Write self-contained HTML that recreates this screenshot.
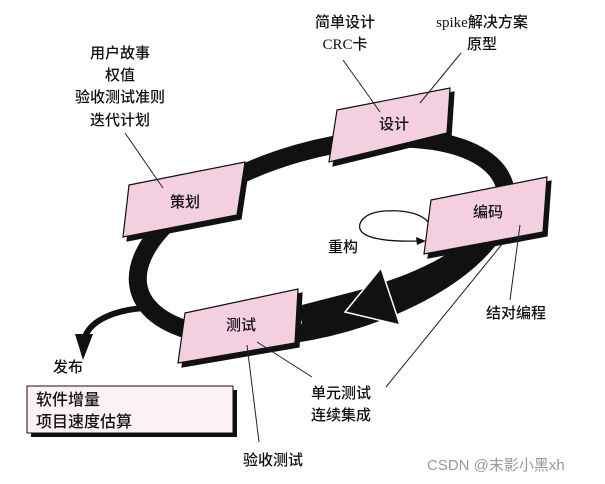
<!DOCTYPE html>
<html><head><meta charset="utf-8"><style>
html,body{margin:0;padding:0;background:#fff;}
svg{display:block;}
text{font-family:"Liberation Serif","Noto Sans CJK SC",sans-serif;font-size:15px;fill:#111;font-weight:500;}
</style></head><body>
<svg width="605" height="484" viewBox="0 0 605 484" xmlns="http://www.w3.org/2000/svg">
<!-- ring -->
<ellipse cx="322" cy="238" rx="190" ry="88" transform="rotate(-16 322 238)" fill="none" stroke="#111" stroke-width="18"/>
<!-- thickened lower-right band -->
<path d="M510,200 C508,250 460,280 410,298 L305,337 L298,306 L360,290 C420,272 478,248 492,200 Z" fill="#111"/>
<!-- arrowhead -->
<polygon points="345,312 381,268 400,325" fill="#111" stroke="#fff" stroke-width="1.5"/>
<!-- release arrow -->
<path d="M145,308 C112,310 88,322 84,340" fill="none" stroke="#111" stroke-width="6"/>
<polygon points="75,334 93,334 83,360" fill="#111"/>
<!-- refactor loop -->
<path d="M428,222 C420,212 400,210 385,211 C365,212 358,222 360,229 C363,238 385,242 420,241" fill="none" stroke="#111" stroke-width="1.3"/>
<polygon points="426,241 416,237 417,245" fill="#111"/>
<!-- boxes: shadow then pink -->
<g stroke="#111" stroke-width="1.2">
<polygon points="133,189 249,166 241,219 127,241" fill="#111"/>
<polygon points="129,185 245,162 237,215 123,237" fill="#f3cfe0"/>
<polygon points="341,114 454,92 451,137 333,166" fill="#111"/>
<polygon points="337,110 450,88 447,133 329,162" fill="#f3cfe0"/>
<polygon points="435,204 551,181 547,236 428,258" fill="#111"/>
<polygon points="431,200 547,177 543,232 424,254" fill="#f3cfe0"/>
<polygon points="189,317 302,293 299,347 182,367" fill="#111"/>
<polygon points="185,313 298,289 295,343 178,363" fill="#f3cfe0"/>
</g>
<!-- leader lines -->
<g stroke="#222" stroke-width="1">
<line x1="125" y1="133" x2="163" y2="188"/>
<line x1="343" y1="60" x2="380" y2="112"/>
<line x1="461" y1="53" x2="420" y2="103"/>
<line x1="510" y1="300" x2="520" y2="225"/>
<line x1="503" y1="243" x2="386" y2="387"/>
<line x1="257" y1="342" x2="312" y2="377"/>
<line x1="247" y1="345" x2="259" y2="442"/>
</g>
<!-- release box -->
<rect x="31" y="390" width="206" height="47" fill="#111"/>
<rect x="27" y="386" width="206" height="47" fill="#fdf0f6" stroke="#111" stroke-width="1"/>
<!-- texts -->
<g text-anchor="middle">
<text x="120" y="58">用户故事</text>
<text x="120" y="80">权值</text>
<text x="120" y="102">验收测试准则</text>
<text x="120" y="125">迭代计划</text>
<text x="345" y="27">简单设计</text>
<text x="345" y="49">CRC卡</text>
<text x="482" y="27">spike解决方案</text>
<text x="482" y="49">原型</text>
<text x="185" y="207">策划</text>
<text x="394" y="129">设计</text>
<text x="488" y="217">编码</text>
<text x="241" y="330">测试</text>
<text x="343" y="252">重构</text>
<text x="516" y="318">结对编程</text>
<text x="341" y="398">单元测试</text>
<text x="341" y="420">连续集成</text>
<text x="273" y="465">验收测试</text>
<text x="68" y="372">发布</text>
</g>
<text x="36" y="405" style="font-size:16px">软件增量</text>
<text x="36" y="427" style="font-size:16px">项目速度估算</text>
<text x="427" y="470" style="font-family:'Liberation Sans','Noto Sans CJK SC',sans-serif;font-size:15px;fill:#999;font-weight:normal">CSDN @末影小黑xh</text>
</svg>
</body></html>
